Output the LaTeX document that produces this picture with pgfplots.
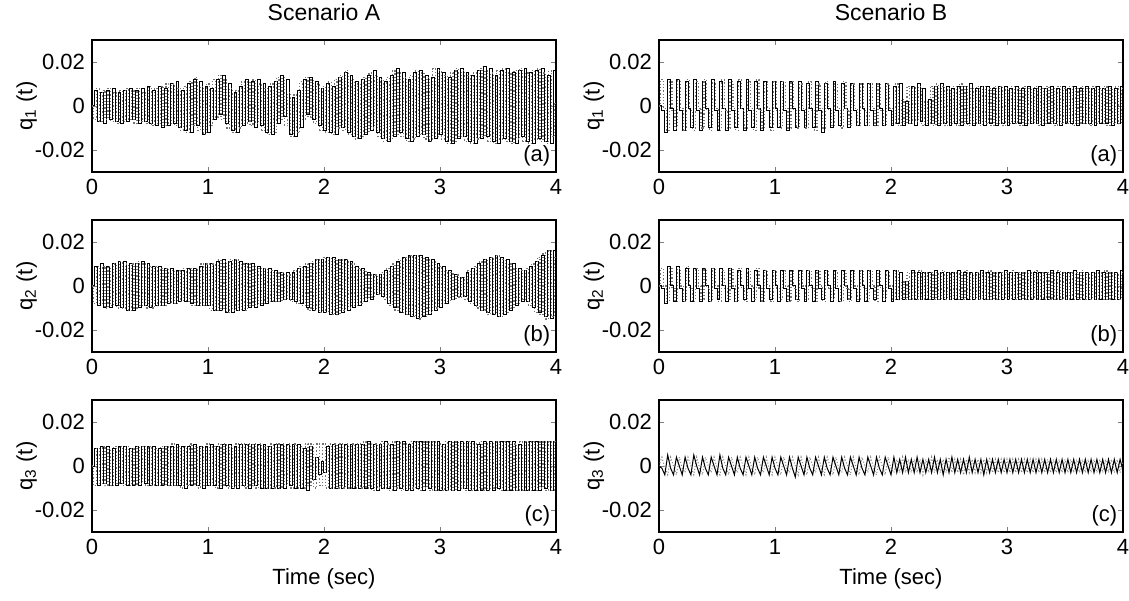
\documentclass[border=0pt]{standalone}
\usepackage{fontspec}
\setmainfont{Liberation Sans}
\usepackage{pgfplots}
\usepackage{pgfplotstable}
\pgfplotsset{compat=1.18}

\pgfplotstableread{
t y1 y2
0.000 0.000 0.000
0.025 0.007 -0.006
0.050 -0.007 0.008
0.075 0.006 -0.007
0.100 -0.008 0.007
0.125 0.007 -0.006
0.150 -0.006 0.008
0.175 0.008 -0.007
0.200 -0.007 0.006
0.225 0.006 -0.008
0.250 -0.008 0.007
0.275 0.007 -0.007
0.300 -0.007 0.008
0.325 0.008 -0.006
0.350 -0.006 0.007
0.375 0.007 -0.008
0.400 -0.008 0.008
0.425 0.008 -0.007
0.450 -0.007 0.006
0.475 0.009 -0.008
0.500 -0.008 0.009
0.525 0.007 -0.009
0.550 -0.009 0.008
0.575 0.009 -0.008
0.600 -0.010 0.009
0.625 0.008 -0.009
0.650 -0.009 0.010
0.675 0.010 -0.008
0.700 -0.008 0.010
0.725 0.011 -0.009
0.750 -0.010 0.008
0.775 0.007 -0.011
0.800 -0.011 0.009
0.825 0.010 -0.012
0.850 -0.012 0.011
0.875 0.012 -0.009
0.900 -0.009 0.013
0.925 0.011 -0.011
0.950 -0.013 0.009
0.975 0.009 -0.013
1.000 -0.012 0.010
1.025 0.008 -0.009
1.050 -0.006 0.012
1.075 0.012 -0.005
1.100 -0.004 0.014
1.125 0.014 -0.006
1.150 -0.008 0.012
1.175 0.010 -0.010
1.200 -0.011 0.008
1.225 0.006 -0.012
1.250 -0.012 0.007
1.275 0.009 -0.010
1.300 -0.009 0.011
1.325 0.012 -0.008
1.350 -0.007 0.011
1.375 0.011 -0.009
1.400 -0.010 0.012
1.425 0.012 -0.008
1.450 -0.009 0.010
1.475 0.010 -0.011
1.500 -0.012 0.008
1.525 0.009 -0.013
1.550 -0.013 0.010
1.575 0.011 -0.012
1.600 -0.008 0.013
1.625 0.014 -0.006
1.650 -0.005 0.013
1.675 0.012 -0.009
1.700 -0.013 0.006
1.725 0.004 -0.014
1.750 -0.014 0.005
1.775 0.007 -0.012
1.800 -0.010 0.011
1.825 0.012 -0.006
1.850 -0.004 0.013
1.875 0.013 -0.005
1.900 -0.006 0.012
1.925 0.011 -0.008
1.950 -0.009 0.010
1.975 0.008 -0.011
2.000 -0.011 0.009
2.025 0.010 -0.012
2.050 -0.012 0.011
2.075 0.009 -0.013
2.100 -0.013 0.012
2.125 0.013 -0.010
2.150 -0.010 0.014
2.175 0.015 -0.011
2.200 -0.012 0.016
2.225 0.014 -0.013
2.250 -0.014 0.012
2.275 0.011 -0.015
2.300 -0.015 0.010
2.325 0.012 -0.014
2.350 -0.013 0.013
2.375 0.014 -0.012
2.400 -0.011 0.015
2.425 0.016 -0.010
2.450 -0.012 0.014
2.475 0.013 -0.014
2.500 -0.015 0.012
2.525 0.011 -0.016
2.550 -0.016 0.013
2.575 0.014 -0.015
2.600 -0.014 0.016
2.625 0.017 -0.013
2.650 -0.012 0.015
2.675 0.015 -0.014
2.700 -0.015 0.013
2.725 0.012 -0.016
2.750 -0.016 0.014
2.775 0.015 -0.015
2.800 -0.014 0.016
2.825 0.016 -0.013
2.850 -0.013 0.015
2.875 0.014 -0.015
2.900 -0.016 0.013
2.925 0.013 -0.016
2.950 -0.015 0.017
2.975 0.017 -0.014
3.000 -0.013 0.016
3.025 0.015 -0.015
3.050 -0.016 0.014
3.075 0.013 -0.017
3.100 -0.017 0.015
3.125 0.016 -0.016
3.150 -0.015 0.017
3.175 0.017 -0.014
3.200 -0.014 0.016
3.225 0.015 -0.016
3.250 -0.016 0.014
3.275 0.014 -0.017
3.300 -0.017 0.015
3.325 0.016 -0.015
3.350 -0.015 0.017
3.375 0.018 -0.014
3.400 -0.014 0.016
3.425 0.017 -0.016
3.450 -0.016 0.015
3.475 0.014 -0.017
3.500 -0.017 0.016
3.525 0.016 -0.015
3.550 -0.015 0.017
3.575 0.017 -0.016
3.600 -0.016 0.015
3.625 0.015 -0.017
3.650 -0.017 0.016
3.675 0.016 -0.015
3.700 -0.014 0.017
3.725 0.017 -0.016
3.750 -0.016 0.015
3.775 0.015 -0.017
3.800 -0.017 0.016
3.825 0.016 -0.015
3.850 -0.015 0.017
3.875 0.017 -0.016
3.900 -0.016 0.015
3.925 0.014 -0.017
3.950 -0.017 0.016
3.975 0.016 -0.014
4.000 0.000 0.001
}\tAa

\pgfplotstableread{
t y1 y2
0.000 0.000 0.000
0.025 0.009 -0.008
0.050 -0.009 0.009
0.075 0.010 -0.008
0.100 -0.010 0.009
0.125 0.009 -0.010
0.150 -0.010 0.009
0.175 0.010 -0.009
0.200 -0.009 0.010
0.225 0.011 -0.010
0.250 -0.010 0.011
0.275 0.011 -0.010
0.300 -0.011 0.010
0.325 0.010 -0.011
0.350 -0.011 0.010
0.375 0.010 -0.010
0.400 -0.010 0.011
0.425 0.011 -0.009
0.450 -0.009 0.010
0.475 0.010 -0.010
0.500 -0.010 0.009
0.525 0.009 -0.010
0.550 -0.009 0.009
0.575 0.009 -0.009
0.600 -0.009 0.008
0.625 0.008 -0.009
0.650 -0.008 0.008
0.675 0.008 -0.008
0.700 -0.008 0.007
0.725 0.007 -0.008
0.750 -0.007 0.007
0.775 0.007 -0.007
0.800 -0.007 0.008
0.825 0.008 -0.007
0.850 -0.008 0.008
0.875 0.008 -0.009
0.900 -0.009 0.008
0.925 0.009 -0.009
0.950 -0.009 0.010
0.975 0.010 -0.009
1.000 -0.009 0.010
1.025 0.010 -0.011
1.050 -0.011 0.010
1.075 0.011 -0.011
1.100 -0.011 0.012
1.125 0.012 -0.011
1.150 -0.012 0.011
1.175 0.011 -0.012
1.200 -0.012 0.012
1.225 0.012 -0.011
1.250 -0.011 0.012
1.275 0.011 -0.011
1.300 -0.011 0.010
1.325 0.010 -0.011
1.350 -0.010 0.010
1.375 0.010 -0.009
1.400 -0.010 0.009
1.425 0.009 -0.009
1.450 -0.009 0.008
1.475 0.008 -0.008
1.500 -0.008 0.008
1.525 0.008 -0.007
1.550 -0.007 0.007
1.575 0.007 -0.007
1.600 -0.007 0.006
1.625 0.006 -0.007
1.650 -0.006 0.006
1.675 0.006 -0.006
1.700 -0.006 0.005
1.725 0.006 -0.007
1.750 -0.007 0.007
1.775 0.008 -0.008
1.800 -0.008 0.009
1.825 0.009 -0.009
1.850 -0.010 0.010
1.875 0.010 -0.011
1.900 -0.011 0.011
1.925 0.012 -0.011
1.950 -0.012 0.012
1.975 0.012 -0.012
2.000 -0.012 0.013
2.025 0.013 -0.012
2.050 -0.013 0.013
2.075 0.013 -0.013
2.100 -0.013 0.012
2.125 0.012 -0.013
2.150 -0.012 0.012
2.175 0.012 -0.011
2.200 -0.011 0.012
2.225 0.011 -0.010
2.250 -0.010 0.010
2.275 0.009 -0.009
2.300 -0.009 0.008
2.325 0.008 -0.008
2.350 -0.007 0.007
2.375 0.006 -0.006
2.400 -0.006 0.005
2.425 0.005 -0.005
2.450 -0.004 0.005
2.475 0.005 -0.004
2.500 -0.005 0.006
2.525 0.007 -0.006
2.550 -0.008 0.008
2.575 0.009 -0.009
2.600 -0.010 0.010
2.625 0.011 -0.011
2.650 -0.012 0.012
2.675 0.013 -0.012
2.700 -0.013 0.013
2.725 0.014 -0.013
2.750 -0.014 0.014
2.775 0.014 -0.014
2.800 -0.015 0.014
2.825 0.014 -0.015
2.850 -0.014 0.013
2.875 0.013 -0.014
2.900 -0.013 0.012
2.925 0.012 -0.012
2.950 -0.011 0.011
2.975 0.010 -0.010
3.000 -0.010 0.009
3.025 0.009 -0.008
3.050 -0.008 0.007
3.075 0.007 -0.007
3.100 -0.006 0.006
3.125 0.005 -0.006
3.150 -0.005 0.005
3.175 0.004 -0.005
3.200 -0.005 0.004
3.225 0.006 -0.006
3.250 -0.007 0.007
3.275 0.008 -0.008
3.300 -0.009 0.009
3.325 0.010 -0.010
3.350 -0.011 0.011
3.375 0.012 -0.011
3.400 -0.012 0.012
3.425 0.013 -0.013
3.450 -0.013 0.013
3.475 0.014 -0.013
3.500 -0.014 0.014
3.525 0.013 -0.014
3.550 -0.013 0.012
3.575 0.012 -0.012
3.600 -0.011 0.010
3.625 0.010 -0.010
3.650 -0.009 0.008
3.675 0.008 -0.008
3.700 -0.007 0.007
3.725 0.007 -0.006
3.750 -0.007 0.008
3.775 0.009 -0.009
3.800 -0.010 0.010
3.825 0.011 -0.012
3.850 -0.012 0.013
3.875 0.014 -0.013
3.900 -0.014 0.015
3.925 0.016 -0.015
3.950 -0.015 0.016
3.975 0.016 -0.014
4.000 -0.012 0.013
}\tAb

\pgfplotstableread{
t y1 y2
0.000 0.000 0.000
0.025 0.008 -0.009
0.050 -0.009 0.008
0.075 0.009 -0.008
0.100 -0.008 0.009
0.125 0.009 -0.009
0.150 -0.009 0.008
0.175 0.008 -0.009
0.200 -0.009 0.009
0.225 0.009 -0.008
0.250 -0.008 0.009
0.275 0.009 -0.009
0.300 -0.009 0.009
0.325 0.008 -0.009
0.350 -0.009 0.008
0.375 0.009 -0.009
0.400 -0.009 0.009
0.425 0.009 -0.008
0.450 -0.008 0.009
0.475 0.009 -0.009
0.500 -0.009 0.009
0.525 0.009 -0.009
0.550 -0.009 0.008
0.575 0.008 -0.009
0.600 -0.009 0.009
0.625 0.009 -0.009
0.650 -0.009 0.009
0.675 0.009 -0.009
0.700 -0.009 0.010
0.725 0.010 -0.009
0.750 -0.009 0.009
0.775 0.009 -0.010
0.800 -0.010 0.009
0.825 0.009 -0.009
0.850 -0.009 0.010
0.875 0.010 -0.009
0.900 -0.009 0.009
0.925 0.009 -0.010
0.950 -0.010 0.009
0.975 0.009 -0.009
1.000 -0.009 0.010
1.025 0.010 -0.009
1.050 -0.009 0.009
1.075 0.009 -0.010
1.100 -0.010 0.010
1.125 0.010 -0.009
1.150 -0.009 0.010
1.175 0.010 -0.010
1.200 -0.010 0.009
1.225 0.009 -0.010
1.250 -0.010 0.010
1.275 0.010 -0.009
1.300 -0.009 0.010
1.325 0.010 -0.010
1.350 -0.010 0.010
1.375 0.010 -0.009
1.400 -0.009 0.010
1.425 0.010 -0.010
1.450 -0.010 0.010
1.475 0.010 -0.010
1.500 -0.010 0.009
1.525 0.009 -0.010
1.550 -0.010 0.010
1.575 0.010 -0.010
1.600 -0.010 0.010
1.625 0.010 -0.010
1.650 -0.010 0.010
1.675 0.010 -0.009
1.700 -0.009 0.010
1.725 0.010 -0.010
1.750 -0.010 0.010
1.775 0.010 -0.010
1.800 -0.010 0.009
1.825 0.008 -0.010
1.850 -0.011 0.010
1.875 0.009 -0.009
1.900 -0.006 0.010
1.925 0.004 -0.010
1.950 -0.004 0.010
1.975 0.002 -0.009
2.000 -0.003 0.010
2.025 0.009 -0.010
2.050 -0.010 0.010
2.075 0.010 -0.010
2.100 -0.010 0.010
2.125 0.010 -0.010
2.150 -0.010 0.010
2.175 0.010 -0.010
2.200 -0.010 0.010
2.225 0.010 -0.010
2.250 -0.010 0.010
2.275 0.010 -0.010
2.300 -0.010 0.010
2.325 0.010 -0.010
2.350 -0.010 0.011
2.375 0.011 -0.010
2.400 -0.010 0.010
2.425 0.010 -0.011
2.450 -0.011 0.010
2.475 0.010 -0.010
2.500 -0.010 0.011
2.525 0.011 -0.010
2.550 -0.010 0.010
2.575 0.010 -0.011
2.600 -0.011 0.011
2.625 0.011 -0.010
2.650 -0.010 0.011
2.675 0.011 -0.011
2.700 -0.011 0.010
2.725 0.010 -0.011
2.750 -0.011 0.011
2.775 0.011 -0.010
2.800 -0.010 0.011
2.825 0.011 -0.011
2.850 -0.011 0.011
2.875 0.011 -0.010
2.900 -0.010 0.011
2.925 0.011 -0.011
2.950 -0.011 0.011
2.975 0.011 -0.011
3.000 -0.011 0.010
3.025 0.010 -0.011
3.050 -0.011 0.011
3.075 0.011 -0.011
3.100 -0.011 0.011
3.125 0.011 -0.011
3.150 -0.011 0.011
3.175 0.011 -0.010
3.200 -0.010 0.011
3.225 0.011 -0.011
3.250 -0.011 0.011
3.275 0.011 -0.011
3.300 -0.011 0.010
3.325 0.010 -0.011
3.350 -0.011 0.011
3.375 0.011 -0.011
3.400 -0.011 0.011
3.425 0.011 -0.011
3.450 -0.011 0.011
3.475 0.011 -0.010
3.500 -0.010 0.011
3.525 0.011 -0.011
3.550 -0.011 0.011
3.575 0.011 -0.011
3.600 -0.011 0.011
3.625 0.011 -0.011
3.650 -0.011 0.010
3.675 0.010 -0.011
3.700 -0.011 0.011
3.725 0.011 -0.011
3.750 -0.011 0.011
3.775 0.011 -0.011
3.800 -0.011 0.011
3.825 0.011 -0.011
3.850 -0.011 0.011
3.875 0.011 -0.010
3.900 -0.010 0.011
3.925 0.011 -0.011
3.950 -0.011 0.011
3.975 0.011 -0.011
4.000 -0.011 0.011
}\tAc

\pgfplotstableread{
t y1 y2
0.000 0.000 0.000
0.025 -0.002 0.012
0.050 -0.012 -0.001
0.075 0.012 -0.011
0.100 -0.001 0.011
0.125 -0.011 -0.002
0.150 0.012 -0.010
0.175 -0.002 0.012
0.200 -0.011 -0.001
0.225 0.011 -0.011
0.250 -0.001 0.012
0.275 -0.010 -0.002
0.300 0.012 -0.011
0.325 -0.002 0.011
0.350 -0.011 -0.001
0.375 0.011 -0.010
0.400 -0.001 0.012
0.425 -0.010 -0.002
0.450 0.012 -0.011
0.475 -0.002 0.011
0.500 -0.011 -0.001
0.525 0.011 -0.011
0.550 -0.001 0.012
0.575 -0.011 -0.002
0.600 0.012 -0.010
0.625 -0.002 0.011
0.650 -0.010 -0.001
0.675 0.011 -0.011
0.700 -0.001 0.012
0.725 -0.011 -0.002
0.750 0.012 -0.010
0.775 -0.002 0.011
0.800 -0.010 -0.001
0.825 0.011 -0.011
0.850 -0.001 0.012
0.875 -0.011 -0.002
0.900 0.011 -0.010
0.925 -0.002 0.011
0.950 -0.010 -0.001
0.975 0.011 -0.011
1.000 -0.001 0.011
1.025 -0.010 -0.002
1.050 0.011 -0.010
1.075 -0.002 0.011
1.100 -0.011 -0.001
1.125 0.011 -0.010
1.150 -0.001 0.011
1.175 -0.010 -0.002
1.200 0.011 -0.010
1.225 -0.002 0.010
1.250 -0.010 -0.001
1.275 0.010 -0.010
1.300 -0.001 0.011
1.325 -0.010 -0.002
1.350 0.011 -0.011
1.375 -0.002 0.010
1.400 -0.012 -0.001
1.425 0.010 -0.010
1.450 -0.001 0.011
1.475 -0.010 -0.002
1.500 0.011 -0.009
1.525 -0.002 0.010
1.550 -0.009 -0.001
1.575 0.010 -0.010
1.600 -0.001 0.011
1.625 -0.010 -0.002
1.650 0.010 -0.009
1.675 -0.002 0.010
1.700 -0.009 -0.001
1.725 0.010 -0.009
1.750 -0.001 0.010
1.775 -0.009 -0.002
1.800 0.010 -0.009
1.825 -0.002 0.010
1.850 -0.009 -0.001
1.875 0.010 -0.009
1.900 -0.001 0.010
1.925 -0.009 -0.002
1.950 0.010 -0.009
1.975 -0.002 0.010
2.000 -0.009 -0.001
2.025 0.009 -0.008
2.050 -0.008 0.010
2.075 0.010 -0.009
2.100 -0.009 0.003
2.125 0.002 -0.008
2.150 -0.008 0.009
2.175 0.009 -0.008
2.200 -0.009 0.009
2.225 0.010 -0.007
2.250 -0.007 0.009
2.275 0.008 -0.009
2.300 -0.009 0.002
2.325 0.003 -0.008
2.350 -0.008 0.009
2.375 0.009 -0.009
2.400 -0.009 0.010
2.425 0.010 -0.008
2.450 -0.008 0.009
2.475 0.009 -0.009
2.500 -0.009 0.008
2.525 0.008 -0.008
2.550 -0.008 0.009
2.575 0.009 -0.009
2.600 -0.009 0.010
2.625 0.009 -0.008
2.650 -0.008 0.009
2.675 0.010 -0.009
2.700 -0.009 0.008
2.725 0.008 -0.008
2.750 -0.008 0.009
2.775 0.009 -0.009
2.800 -0.009 0.009
2.825 0.009 -0.008
2.850 -0.008 0.008
2.875 0.008 -0.009
2.900 -0.009 0.009
2.925 0.009 -0.008
2.950 -0.008 0.009
2.975 0.009 -0.009
3.000 -0.009 0.008
3.025 0.008 -0.008
3.050 -0.008 0.009
3.075 0.009 -0.008
3.100 -0.008 0.008
3.125 0.008 -0.009
3.150 -0.009 0.009
3.175 0.009 -0.008
3.200 -0.008 0.008
3.225 0.008 -0.008
3.250 -0.008 0.009
3.275 0.009 -0.009
3.300 -0.009 0.008
3.325 0.008 -0.008
3.350 -0.008 0.009
3.375 0.009 -0.008
3.400 -0.008 0.008
3.425 0.008 -0.009
3.450 -0.009 0.009
3.475 0.009 -0.008
3.500 -0.008 0.008
3.525 0.008 -0.008
3.550 -0.008 0.009
3.575 0.009 -0.009
3.600 -0.009 0.008
3.625 0.008 -0.008
3.650 -0.008 0.009
3.675 0.009 -0.008
3.700 -0.008 0.008
3.725 0.008 -0.009
3.750 -0.009 0.009
3.775 0.009 -0.008
3.800 -0.008 0.008
3.825 0.008 -0.008
3.850 -0.008 0.009
3.875 0.009 -0.009
3.900 -0.009 0.008
3.925 0.008 -0.008
3.950 -0.008 0.009
3.975 0.009 -0.008
4.000 -0.008 0.008
}\tBa

\pgfplotstableread{
t y1 y2
0.000 0.000 0.000
0.025 -0.001 0.008
0.050 -0.008 0.000
0.075 0.009 -0.007
0.100 0.000 0.008
0.125 -0.007 -0.001
0.150 0.009 -0.007
0.175 -0.001 0.008
0.200 -0.007 0.000
0.225 0.008 -0.007
0.250 0.000 0.009
0.275 -0.007 -0.001
0.300 0.008 -0.007
0.325 -0.001 0.008
0.350 -0.007 0.000
0.375 0.008 -0.006
0.400 0.000 0.008
0.425 -0.007 -0.001
0.450 0.008 -0.007
0.475 -0.001 0.008
0.500 -0.006 0.000
0.525 0.008 -0.007
0.550 0.000 0.007
0.575 -0.007 -0.001
0.600 0.008 -0.006
0.625 -0.001 0.008
0.650 -0.007 0.000
0.675 0.007 -0.007
0.700 0.000 0.008
0.725 -0.006 -0.001
0.750 0.008 -0.007
0.775 -0.001 0.007
0.800 -0.007 0.000
0.825 0.007 -0.006
0.850 0.000 0.008
0.875 -0.007 -0.001
0.900 0.007 -0.007
0.925 -0.001 0.007
0.950 -0.006 0.000
0.975 0.007 -0.007
1.000 0.000 0.007
1.025 -0.007 -0.001
1.050 0.007 -0.006
1.075 -0.001 0.007
1.100 -0.007 0.000
1.125 0.007 -0.007
1.150 0.000 0.007
1.175 -0.006 -0.001
1.200 0.007 -0.007
1.225 -0.001 0.007
1.250 -0.007 0.000
1.275 0.007 -0.006
1.300 0.000 0.007
1.325 -0.007 -0.001
1.350 0.007 -0.007
1.375 -0.001 0.007
1.400 -0.006 0.000
1.425 0.007 -0.007
1.450 0.000 0.007
1.475 -0.007 -0.001
1.500 0.007 -0.006
1.525 -0.001 0.007
1.550 -0.007 0.000
1.575 0.007 -0.007
1.600 0.000 0.007
1.625 -0.006 -0.001
1.650 0.007 -0.007
1.675 -0.001 0.007
1.700 -0.007 0.000
1.725 0.007 -0.006
1.750 0.000 0.007
1.775 -0.007 -0.001
1.800 0.007 -0.007
1.825 -0.001 0.007
1.850 -0.006 0.000
1.875 0.007 -0.007
1.900 0.000 0.007
1.925 -0.007 -0.001
1.950 0.007 -0.006
1.975 -0.001 0.007
2.000 -0.007 0.000
2.025 0.007 -0.006
2.050 -0.006 0.007
2.075 0.006 -0.006
2.100 -0.006 0.002
2.125 0.002 -0.006
2.150 -0.006 0.006
2.175 0.007 -0.006
2.200 -0.006 0.006
2.225 0.006 -0.006
2.250 -0.006 0.007
2.275 0.006 -0.006
2.300 -0.006 0.006
2.325 0.006 -0.006
2.350 -0.006 0.006
2.375 0.007 -0.006
2.400 -0.006 0.006
2.425 0.006 -0.006
2.450 -0.006 0.007
2.475 0.006 -0.006
2.500 -0.006 0.006
2.525 0.006 -0.006
2.550 -0.006 0.006
2.575 0.007 -0.006
2.600 -0.006 0.006
2.625 0.006 -0.006
2.650 -0.006 0.007
2.675 0.006 -0.006
2.700 -0.006 0.006
2.725 0.006 -0.006
2.750 -0.006 0.006
2.775 0.007 -0.006
2.800 -0.006 0.006
2.825 0.006 -0.006
2.850 -0.006 0.007
2.875 0.006 -0.006
2.900 -0.006 0.006
2.925 0.006 -0.006
2.950 -0.006 0.006
2.975 0.007 -0.006
3.000 -0.006 0.006
3.025 0.006 -0.006
3.050 -0.006 0.007
3.075 0.006 -0.006
3.100 -0.006 0.006
3.125 0.006 -0.006
3.150 -0.006 0.006
3.175 0.007 -0.006
3.200 -0.006 0.006
3.225 0.006 -0.006
3.250 -0.006 0.007
3.275 0.006 -0.006
3.300 -0.006 0.006
3.325 0.006 -0.006
3.350 -0.006 0.006
3.375 0.007 -0.006
3.400 -0.006 0.006
3.425 0.006 -0.006
3.450 -0.006 0.007
3.475 0.006 -0.006
3.500 -0.006 0.006
3.525 0.006 -0.006
3.550 -0.006 0.006
3.575 0.007 -0.006
3.600 -0.006 0.006
3.625 0.006 -0.006
3.650 -0.006 0.007
3.675 0.006 -0.006
3.700 -0.006 0.006
3.725 0.006 -0.006
3.750 -0.006 0.006
3.775 0.007 -0.006
3.800 -0.006 0.006
3.825 0.006 -0.006
3.850 -0.006 0.007
3.875 0.006 -0.006
3.900 -0.006 0.006
3.925 0.006 -0.006
3.950 -0.006 0.006
3.975 0.007 -0.006
4.000 -0.006 0.006
}\tBb

\pgfplotstableread{
t y1 y2
0.000 0.000 0.000
0.025 -0.001 0.004
0.050 -0.004 -0.001
0.075 0.005 -0.004
0.100 -0.001 0.004
0.125 -0.004 0.000
0.150 0.004 -0.004
0.175 0.000 0.004
0.200 -0.004 -0.001
0.225 0.004 -0.003
0.250 -0.001 0.004
0.275 -0.004 0.000
0.300 0.005 -0.004
0.325 0.000 0.004
0.350 -0.004 -0.001
0.375 0.004 -0.004
0.400 -0.001 0.004
0.425 -0.004 0.000
0.450 0.004 -0.003
0.475 0.000 0.004
0.500 -0.004 -0.001
0.525 0.005 -0.004
0.550 -0.001 0.004
0.575 -0.004 0.000
0.600 0.004 -0.004
0.625 0.000 0.004
0.650 -0.004 -0.001
0.675 0.004 -0.003
0.700 -0.001 0.004
0.725 -0.004 0.000
0.750 0.004 -0.004
0.775 0.000 0.004
0.800 -0.004 -0.001
0.825 0.004 -0.004
0.850 -0.001 0.004
0.875 -0.004 0.000
0.900 0.004 -0.003
0.925 0.000 0.004
0.950 -0.004 -0.001
0.975 0.004 -0.004
1.000 -0.001 0.004
1.025 -0.004 0.000
1.050 0.004 -0.004
1.075 0.000 0.004
1.100 -0.004 -0.001
1.125 0.004 -0.003
1.150 -0.001 0.004
1.175 -0.005 0.000
1.200 0.004 -0.004
1.225 0.000 0.004
1.250 -0.004 -0.001
1.275 0.004 -0.004
1.300 -0.001 0.004
1.325 -0.004 0.000
1.350 0.004 -0.003
1.375 0.000 0.004
1.400 -0.004 -0.001
1.425 0.004 -0.004
1.450 -0.001 0.004
1.475 -0.004 0.000
1.500 0.004 -0.004
1.525 0.000 0.004
1.550 -0.004 -0.001
1.575 0.004 -0.003
1.600 -0.001 0.004
1.625 -0.004 0.000
1.650 0.004 -0.004
1.675 0.000 0.004
1.700 -0.004 -0.001
1.725 0.004 -0.004
1.750 -0.001 0.004
1.775 -0.004 0.000
1.800 0.004 -0.003
1.825 0.000 0.004
1.850 -0.004 -0.001
1.875 0.004 -0.004
1.900 -0.001 0.004
1.925 -0.004 0.000
1.950 0.004 -0.004
1.975 0.000 0.004
2.000 -0.004 -0.001
2.025 0.004 -0.003
2.050 -0.003 0.003
2.075 0.003 -0.003
2.100 -0.003 0.004
2.125 0.004 -0.003
2.150 -0.003 0.003
2.175 0.003 -0.003
2.200 -0.003 0.003
2.225 0.004 -0.003
2.250 -0.003 0.003
2.275 0.003 -0.004
2.300 -0.003 0.003
2.325 0.003 -0.003
2.350 -0.003 0.004
2.375 0.004 -0.003
2.400 -0.003 0.003
2.425 0.003 -0.003
2.450 -0.004 0.003
2.475 0.003 -0.003
2.500 -0.003 0.004
2.525 0.004 -0.003
2.550 -0.003 0.003
2.575 0.003 -0.003
2.600 -0.003 0.003
2.625 0.003 -0.004
2.650 -0.003 0.003
2.675 0.004 -0.003
2.700 -0.003 0.003
2.725 0.003 -0.003
2.750 -0.003 0.003
2.775 0.003 -0.003
2.800 -0.004 0.003
2.825 0.003 -0.003
2.850 -0.003 0.004
2.875 0.003 -0.003
2.900 -0.003 0.003
2.925 0.003 -0.003
2.950 -0.003 0.003
2.975 0.003 -0.003
3.000 -0.003 0.003
3.025 0.003 -0.003
3.050 -0.003 0.003
3.075 0.003 -0.003
3.100 -0.003 0.003
3.125 0.003 -0.003
3.150 -0.003 0.003
3.175 0.003 -0.003
3.200 -0.003 0.003
3.225 0.003 -0.003
3.250 -0.003 0.003
3.275 0.003 -0.003
3.300 -0.003 0.003
3.325 0.003 -0.003
3.350 -0.003 0.003
3.375 0.003 -0.003
3.400 -0.003 0.003
3.425 0.003 -0.003
3.450 -0.003 0.003
3.475 0.003 -0.003
3.500 -0.003 0.003
3.525 0.003 -0.003
3.550 -0.003 0.003
3.575 0.003 -0.003
3.600 -0.003 0.003
3.625 0.003 -0.003
3.650 -0.003 0.003
3.675 0.003 -0.003
3.700 -0.003 0.003
3.725 0.003 -0.003
3.750 -0.003 0.003
3.775 0.003 -0.003
3.800 -0.003 0.003
3.825 0.003 -0.003
3.850 -0.003 0.003
3.875 0.003 -0.003
3.900 -0.003 0.003
3.925 0.003 -0.003
3.950 -0.003 0.003
3.975 0.003 -0.003
4.000 -0.002 0.002
}\tBc

\pgfplotsset{
  panel/.style={
    scale only axis, width=232pt, height=66pt, anchor=south west,
    xmin=0, xmax=4, ymin=-0.03, ymax=0.03,
    xtick={0,1,2,3,4}, xticklabels={0,1,2,3,4},
    ytick={-0.02,0,0.02}, yticklabels={-0.02,0,0.02},
    scaled y ticks=false, scaled x ticks=false,
    tick align=inside, xtick pos=both, ytick pos=both,
    major tick length=2.5pt,
    tick label style={font=\fontsize{11}{13}\selectfont},
    label style={font=\fontsize{11}{13}\selectfont},
    ylabel style={yshift=-8pt},
    title style={font=\fontsize{11.5}{13}\selectfont, yshift=0pt},
    axis line style={line width=0.6pt},
    /pgf/number format/assume math mode=true,
  },
  sigA/.style={black, line width=0.5pt, const plot},
  sigB/.style={black!55, densely dotted, line width=0.6pt, const plot mark mid},
  sigAs/.style={black, line width=0.5pt},
  sigBs/.style={gray, densely dotted, line width=0.5pt},
}
\tikzset{plab/.style={anchor=south east, font=\fontsize{11}{13}\selectfont, inner sep=1.5pt}}

\begin{document}
\begin{tikzpicture}
\path[use as bounding box] (0,0) rectangle (564.5pt,300pt);
% Scenario A
\begin{axis}[panel, at={(46pt,214pt)}, title={Scenario A}, ylabel={q\textsubscript{1} (t)}]
\addplot[sigA] table[x=t,y=y1]{\tAa};
\addplot[sigB] table[x=t,y=y2]{\tAa};
\node[plab] at (rel axis cs:0.995,0.02) {(a)};
\end{axis}
\begin{axis}[panel, at={(46pt,124pt)}, ylabel={q\textsubscript{2} (t)}]
\addplot[sigA] table[x=t,y=y1]{\tAb};
\addplot[sigB] table[x=t,y=y2]{\tAb};
\node[plab] at (rel axis cs:0.995,0.02) {(b)};
\end{axis}
\begin{axis}[panel, at={(46pt,34pt)}, ylabel={q\textsubscript{3} (t)}, xlabel={Time (sec)}]
\addplot[sigA] table[x=t,y=y1]{\tAc};
\addplot[sigB] table[x=t,y=y2]{\tAc};
\node[plab] at (rel axis cs:0.995,0.02) {(c)};
\end{axis}
% Scenario B
\begin{axis}[panel, at={(329.5pt,214pt)}, title={Scenario B}, ylabel={q\textsubscript{1} (t)}]
\addplot[sigA] table[x=t,y=y1]{\tBa};
\addplot[sigB] table[x=t,y=y2]{\tBa};
\node[plab] at (rel axis cs:0.995,0.02) {(a)};
\end{axis}
\begin{axis}[panel, at={(329.5pt,124pt)}, ylabel={q\textsubscript{2} (t)}]
\addplot[sigA] table[x=t,y=y1]{\tBb};
\addplot[sigB] table[x=t,y=y2]{\tBb};
\node[plab] at (rel axis cs:0.995,0.02) {(b)};
\end{axis}
\begin{axis}[panel, at={(329.5pt,34pt)}, ylabel={q\textsubscript{3} (t)}, xlabel={Time (sec)}]
\addplot[sigBs] table[x=t,y=y2]{\tBc};
\addplot[sigAs] table[x=t,y=y1]{\tBc};
\node[plab] at (rel axis cs:0.995,0.02) {(c)};
\end{axis}
\end{tikzpicture}
\end{document}
